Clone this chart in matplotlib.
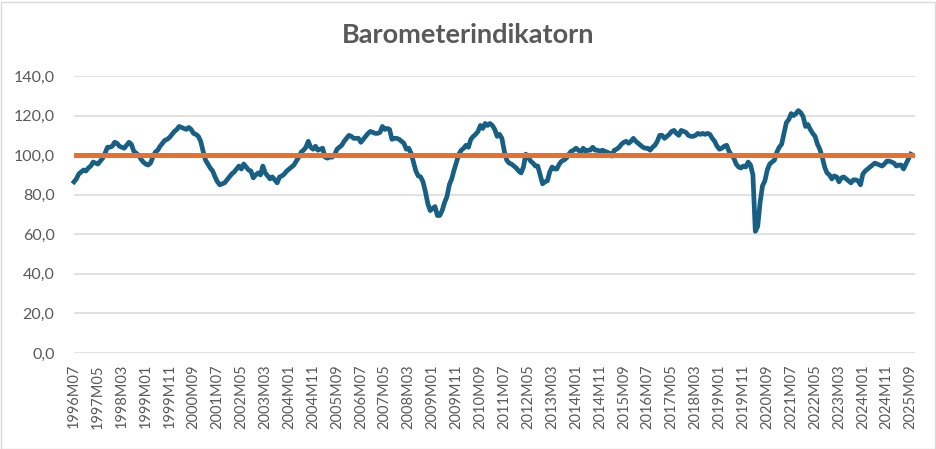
import numpy as np
import matplotlib
matplotlib.use("Agg")
import matplotlib.pyplot as plt
from matplotlib.patches import Rectangle
from matplotlib.ticker import FuncFormatter

# monthly barometer values, 1996M07 .. 2025M09
v1996 = [86.5, 88.0, 90.5, 91.5, 92.5, 92.0]
v1997 = [93.5, 94.5, 96.5, 96.0, 95.5, 97.0, 98.5, 101.0, 104.0, 104.0, 104.5, 106.5]
v1998 = [106.0, 104.5, 104.0, 103.5, 105.0, 106.5, 105.5, 102.0, 101.0, 100.0, 98.0, 96.5]
v1999 = [95.5, 95.0, 96.0, 99.0, 101.5, 102.5, 104.5, 106.0, 107.5, 108.0, 109.0, 110.5]
v2000 = [112.0, 113.0, 114.5, 114.0, 113.5, 113.0, 114.0, 113.0, 111.0, 110.5, 109.5, 107.0]
v2001 = [102.0, 97.5, 95.5, 93.5, 92.0, 89.0, 86.5, 85.0, 85.5, 86.0, 87.5, 89.0]
v2002 = [90.5, 91.5, 93.0, 94.5, 93.0, 95.5, 94.0, 92.5, 92.0, 88.5, 90.0, 91.0]
v2003 = [90.0, 94.5, 91.0, 89.5, 88.0, 89.0, 87.5, 86.0, 89.0, 89.5, 90.5, 92.0]
v2004 = [93.0, 94.0, 95.0, 97.0, 99.0, 101.5, 102.5, 104.0, 107.0, 104.0, 103.0, 104.5]
v2005 = [102.5, 103.0, 103.5, 99.0, 98.5, 99.0, 99.0, 100.0, 103.0, 104.0, 105.0, 107.0]
v2006 = [108.5, 110.0, 109.5, 108.5, 108.5, 108.5, 106.5, 108.0, 109.5, 111.0, 112.0, 111.5]
v2007 = [111.0, 111.0, 111.5, 114.5, 113.0, 113.5, 113.0, 108.0, 108.5, 108.5, 108.0, 107.0]
v2008 = [106.0, 103.0, 103.5, 101.0, 96.5, 92.0, 89.5, 89.0, 86.5, 81.5, 75.5, 72.0]
v2009 = [73.0, 74.0, 69.5, 69.5, 72.0, 76.0, 79.0, 85.0, 88.0, 92.5, 96.5, 100.5]
v2010 = [102.5, 103.5, 105.0, 104.0, 108.0, 109.5, 110.5, 112.0, 115.0, 113.5, 116.0, 115.0]
v2011 = [116.0, 115.0, 113.0, 109.5, 110.5, 108.5, 102.0, 97.5, 96.0, 95.5, 94.5, 93.5]
v2012 = [92.0, 91.0, 94.0, 100.5, 99.0, 97.0, 96.0, 94.5, 94.5, 90.0, 85.5, 86.5]
v2013 = [87.0, 91.5, 94.0, 93.0, 93.0, 95.5, 97.0, 97.5, 98.5, 100.5, 102.0, 102.5]
v2014 = [103.5, 102.5, 101.5, 103.5, 102.0, 102.5, 102.5, 104.0, 102.5, 102.5, 102.0, 102.5]
v2015 = [102.0, 101.5, 101.0, 99.5, 102.5, 103.0, 104.0, 105.5, 106.5, 107.0, 106.0, 107.0]
v2016 = [108.5, 107.0, 106.0, 105.0, 104.0, 103.5, 103.5, 102.5, 104.0, 105.0, 107.0, 110.0]
v2017 = [110.0, 108.5, 109.5, 110.5, 112.0, 112.5, 111.0, 110.0, 112.5, 112.0, 111.5, 110.0]
v2018 = [109.5, 109.5, 110.0, 111.0, 110.5, 111.0, 110.5, 111.0, 110.5, 108.5, 107.0, 104.5]
v2019 = [103.0, 103.5, 104.5, 105.0, 102.0, 100.0, 98.5, 95.5, 94.0, 93.5, 94.5, 94.0]
v2020 = [96.5, 95.0, 90.0, 61.5, 64.0, 76.0, 84.5, 87.0, 92.5, 95.5, 96.5, 97.5]
v2021 = [101.5, 104.0, 105.5, 111.0, 116.5, 118.0, 121.0, 120.0, 121.0, 122.5, 121.5, 119.5]
v2022 = [114.5, 115.5, 113.0, 111.0, 109.5, 105.5, 103.0, 99.0, 94.0, 91.0, 90.0, 88.0]
v2023 = [89.5, 89.0, 86.5, 88.5, 89.0, 88.0, 87.0, 86.0, 87.5, 87.5, 87.0, 85.0]
v2024 = [90.5, 92.0, 93.0, 94.0, 95.0, 96.0, 95.5, 95.0, 94.5, 95.5, 97.0, 97.0]
v2025 = [96.5, 96.0, 94.5, 95.0, 95.0, 93.0, 95.5, 98.0, 100.5]

values = (v1996 + v1997 + v1998 + v1999 + v2000 + v2001 + v2002 + v2003 + v2004 +
          v2005 + v2006 + v2007 + v2008 + v2009 + v2010 + v2011 + v2012 + v2013 +
          v2014 + v2015 + v2016 + v2017 + v2018 + v2019 + v2020 + v2021 + v2022 +
          v2023 + v2024 + v2025)
reference_level = 100.0

# month labels 1996M07 ...
labels = []
y, m = 1996, 7
for _ in range(len(values)):
    labels.append(f"{y}M{m:02d}")
    m += 1
    if m > 12:
        m = 1
        y += 1

x = np.arange(len(values))
grey = "#595959"
plt.rcParams['font.family'] = ['Lato', 'DejaVu Sans']

fig = plt.figure(figsize=(9.37, 4.49), dpi=100)
ax = fig.add_axes([74/937, (449-353)/449, (915-74)/937, (353-76)/449])

ax.plot(x, values, color="#175f83", linewidth=3.4, solid_joinstyle="round", zorder=3, clip_on=False)
ax.axhline(reference_level, color="#e8702e", linewidth=3.6, zorder=4)

ax.set_xlim(0, 351.8)
ax.set_ylim(0, 140)
ax.set_yticks(np.arange(0, 141, 20))
ax.yaxis.set_major_formatter(FuncFormatter(lambda v, p: f"{v:.1f}".replace(".", ",")))
ax.grid(axis="y", color="#d9d9d9", linewidth=1.1, zorder=0)
ax.set_xticks(x[::10])
ax.set_xticklabels(labels[::10], rotation=90, fontsize=10.5, color=grey)
ax.tick_params(axis="y", labelsize=11.5, colors=grey, length=0, pad=14)
ax.tick_params(axis="x", length=0, pad=8)
for s in ax.spines.values():
    s.set_visible(False)

fig.text(0.5, 1 - 35/449, "Barometerindikatorn", ha="center", va="center",
         fontsize=19.5, fontweight="bold", color=grey)
fig.patches.append(Rectangle((0.5/937, 0.5/449), 935/937, 447/449, transform=fig.transFigure,
                             fill=False, edgecolor="#d9d9d9", linewidth=1))

fig.savefig("out.png", dpi=100)
